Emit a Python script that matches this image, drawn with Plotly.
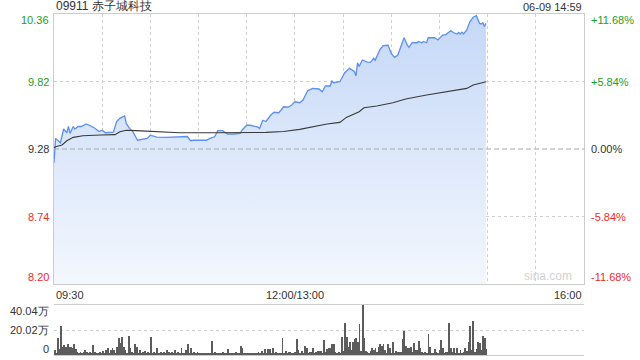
import plotly.graph_objects as go

# ---------------- data ----------------
title_text = "09911 赤子城科技"
stamp_text = "06-09 14:59"
prev_close = 9.28
price_ticks = [10.36, 9.82, 9.28, 8.74, 8.20]
pct_ticks = ["+11.68%", "+5.84%", "0.00%", "-5.84%", "-11.68%"]
vol_ticks = [40.04, 20.02, 0]
vol_tick_labels = ["40.04万", "20.02万", "0"]
x_tick_labels = ["09:30", "12:00/13:00", "16:00"]

price_times = ["09:30", "09:31", "09:34", "09:36", "09:38", "09:39", "09:40", "09:42", "09:43", "09:45",
               "09:47", "09:50", "09:52", "09:55", "09:58", "10:00", "10:02", "10:05", "10:07", "10:09",
               "10:11", "10:14", "10:15", "10:17", "10:19", "10:22", "10:25", "10:28", "10:30", "10:32",
               "10:34", "10:40", "10:45", "10:50", "10:53", "10:55", "10:57", "11:05", "11:07", "11:10",
               "11:12", "11:15", "11:18", "11:22", "11:26", "11:27", "11:30", "11:32", "11:34", "11:37",
               "11:38", "11:40", "11:42", "11:45", "11:47", "11:50", "11:53", "11:56", "11:58", "12:00",
               "13:03", "13:05", "13:08", "13:11", "13:15", "13:17", "13:19", "13:22", "13:23", "13:24",
               "13:28", "13:31", "13:34", "13:37", "13:38", "13:39", "13:40", "13:42", "13:45", "13:47",
               "13:49", "13:50", "13:51", "13:53", "13:55", "13:58", "14:00", "14:02", "14:04", "14:06",
               "14:08", "14:10", "14:11", "14:13", "14:16", "14:17", "14:19", "14:20", "14:22", "14:23",
               "14:27", "14:29", "14:32", "14:34", "14:37", "14:39", "14:41", "14:42", "14:43", "14:44",
               "14:45", "14:47", "14:49", "14:51", "14:53", "14:55", "14:56", "14:57", "14:58", "14:59"]
price_values = [9.17, 9.365, 9.33, 9.44, 9.41, 9.46, 9.405, 9.46, 9.44, 9.46,
                9.46, 9.48, 9.47, 9.45, 9.42, 9.43, 9.41, 9.415, 9.415, 9.50,
                9.525, 9.544, 9.485, 9.445, 9.42, 9.35, 9.355, 9.365, 9.39, 9.38,
                9.375, 9.373, 9.375, 9.378, 9.38, 9.346, 9.35, 9.35, 9.365, 9.378,
                9.427, 9.427, 9.40, 9.40, 9.405, 9.43, 9.47, 9.47, 9.465, 9.455,
                9.445, 9.51, 9.50, 9.552, 9.574, 9.57, 9.618, 9.615, 9.632, 9.658,
                9.65, 9.672, 9.747, 9.765, 9.76, 9.738, 9.784, 9.784, 9.826, 9.81,
                9.818, 9.89, 9.925, 9.90, 9.864, 9.97, 9.94, 9.992, 9.975, 9.973,
                10.005, 9.99, 10.02, 10.077, 10.107, 10.11, 10.045, 10.013, 10.03, 10.10,
                10.17, 10.11, 10.093, 10.13, 10.13, 10.14, 10.13, 10.14, 10.13, 10.17,
                10.17, 10.152, 10.192, 10.195, 10.226, 10.21, 10.20, 10.213, 10.20, 10.215,
                10.20, 10.232, 10.30, 10.334, 10.347, 10.285, 10.28, 10.29, 10.26, 10.285]

avg_times = ["09:30", "09:31", "09:35", "09:38", "09:42", "09:48", "09:59", "10:08", "10:11", "10:15",
             "10:21", "10:48", "11:07", "11:24", "11:42", "11:53", "12:00", "13:03", "13:20", "13:28",
             "13:32", "13:40", "13:43", "13:51", "14:01", "14:09", "14:22", "14:34", "14:47", "14:51",
             "14:59"]
avg_values = [9.29, 9.298, 9.312, 9.346, 9.373, 9.386, 9.392, 9.395, 9.418, 9.43,
              9.427, 9.41, 9.41, 9.41, 9.413, 9.42, 9.43, 9.437, 9.48, 9.493,
              9.533, 9.578, 9.61, 9.624, 9.65, 9.68, 9.712, 9.738, 9.765, 9.792,
              9.818]

# volume per trading minute (万), 09:30 .. 14:59
volume = [4, 2, 13.3, 5, 23.2, 6.7, 8, 6.7, 8.5, 6.7,
          6.7, 5.3, 8.5, 4.8, 2.7, 1.5, 2.7, 1.2, 2.1, 4,
          2.7, 1.5, 2.7, 1.2, 8, 2.1, 1.3, 1.0, 2.7, 1.5,
          3.2, 1.2, 4, 5.3, 1.5, 4, 5.3, 4, 1.5, 6.7,
          13.9, 9.3, 14.7, 6.7, 4, 1.5, 15.5, 5.3, 2.7, 1.2,
          8.5, 6.7, 1.5, 4, 1.2, 2.7, 3.2, 1.0, 2.1, 1.2,
          14.7, 1.5, 2.7, 1.2, 5.3, 1.0, 2.7, 1.2, 2.1, 1.0,
          4, 2.1, 1.2, 2.7, 1.0, 4, 1.2, 2.1, 1.0, 5.3,
          1.2, 1.5, 4, 8.5, 1.5, 5.3, 1.2, 2.7, 1.0, 2.7,
          1.0, 1.2, 1.0, 1.2, 1.0, 1.2, 1.0, 1.5, 11.2, 1.0,
          2.1, 1.0, 1.0, 1.5, 1.0, 2.1, 1.0, 1.2, 4.8, 1.0,
          1.2, 1.5, 1.0, 2.1, 1.0, 1.2, 7.2, 5.9, 1.2, 1.0,
          1.5, 1.0, 1.2, 1.0, 1.5, 1.0, 1.2, 2.7, 1.0, 3.2,
          1.5, 4.5, 1.2, 4.5, 4.8, 1.2, 5.3, 1.0, 2.1, 1.0,
          1.2, 1.5, 13.9, 1.2, 3.2, 1.5, 2.7, 2.1, 1.0, 1.2,
          2.7, 12.8, 4, 1.2, 3.2, 1.5, 7.2, 5.9, 1.5, 2.7,
          2.1, 5.9, 1.0, 2.7, 3.2, 3.2, 3.2, 1.2, 12, 2.1,
          4.8, 5.3, 5.3, 8.8, 8.8, 2.7, 1.0, 2.1, 1.2, 14.2,
          3.2, 25.4, 14.2, 6.7, 10.1, 4, 10.7, 12.8, 13.9, 10.1,
          24.6, 3.2, 40.04, 13.4, 3.2, 2.7, 1.2, 3.2, 5.9, 4,
          5.3, 2.7, 6.7, 8.5, 7.5, 8.8, 4, 1.2, 8.8, 5.3,
          1.2, 10.7, 1.5, 3.2, 2.7, 2.7, 2.7, 12.8, 19.5, 7.2,
          5.9, 5.3, 6.7, 2.1, 9.3, 4, 4, 11.2, 5.3, 2.7,
          1.3, 2.7, 1.2, 16.6, 6.7, 1.3, 1.3, 4.8, 2.1, 1.3,
          4, 12, 5.3, 1.2, 2.7, 2.1, 25.4, 5.9, 2.7, 5.9,
          1.5, 5.9, 1.2, 4, 1.3, 2.1, 5.9, 3.2, 10.7, 23.2,
          4, 27.2, 2.7, 4.8, 10.7, 9.3, 4, 15.5, 13.9, 4.8]


def tidx(t):
    """Trading-minute index: 09:30 -> 0, 12:00 / 13:00 -> 150, 16:00 -> 330."""
    h, m = map(int, t.split(":"))
    mins = h * 60 + m
    return mins - 570 if mins <= 720 else 150 + (mins - 780)


px = [tidx(t) for t in price_times]
ax_ = [tidx(t) for t in avg_times]
vx = list(range(len(volume)))
x_end = tidx("16:00")

GREEN = "#1e9e1e"
RED = "#f02b2b"
DARK = "#333333"
FONT = "Liberation Sans, Arial, sans-serif"

fig = go.Figure()

fig.add_trace(go.Scatter(
    x=px, y=price_values, mode="lines",
    line=dict(color="#5b8ff0", width=1.3),
    fill="tozeroy",
    fillgradient=dict(type="vertical", start=price_ticks[-1], stop=price_ticks[0],
                      colorscale=[[0, "#f3f7fe"], [1, "#c5d8f7"]]),
    hoverinfo="skip", xaxis="x", yaxis="y"))

fig.add_trace(go.Scatter(
    x=ax_, y=avg_values, mode="lines",
    line=dict(color="#3a3a3a", width=1.1),
    hoverinfo="skip", xaxis="x", yaxis="y"))

fig.add_trace(go.Bar(
    x=vx, y=volume, width=0.55,
    marker=dict(color="#5c5c5c", line=dict(width=0)),
    hoverinfo="skip", xaxis="x2", yaxis="y2"))

grid_x = list(range(0, x_end + 1, 30))

fig.update_layout(
    width=640, height=360,
    margin=dict(l=54, r=56, t=14, b=5),
    paper_bgcolor="white", plot_bgcolor="white",
    showlegend=False, bargap=0,
    font=dict(family=FONT, size=11, color=DARK),
    xaxis=dict(domain=[0, 1], range=[0, x_end], tickvals=grid_x, showticklabels=False,
               ticks="", showgrid=True, gridcolor="#cfcfcf", griddash="dot", gridwidth=1,
               showline=True, mirror=True, linecolor="#cccccc", linewidth=1,
               zeroline=False, anchor="y", fixedrange=True),
    yaxis=dict(domain=[71 / 341, 1], range=[price_ticks[-1], price_ticks[0]],
               tickvals=[price_ticks[1], price_ticks[3]], showticklabels=False, ticks="",
               showgrid=True, gridcolor="#cfcfcf", griddash="dot", gridwidth=1,
               showline=True, mirror=True, linecolor="#cccccc", linewidth=1,
               zeroline=False, anchor="x"),
    xaxis2=dict(domain=[0, 1], range=[-0.5, x_end], showticklabels=False, ticks="",
                showgrid=False, showline=True, mirror=True, linecolor="#cccccc", linewidth=1,
                zeroline=False, anchor="y2", matches=None),
    yaxis2=dict(domain=[0, 50 / 341], range=[0, vol_ticks[0]],
                tickvals=[vol_ticks[0], vol_ticks[1]], showticklabels=False, ticks="",
                showgrid=True, gridcolor="#cfcfcf", griddash="dot", gridwidth=1,
                showline=False, zeroline=False, anchor="x2"),
)

# previous-close reference line
fig.add_shape(type="line", xref="x", yref="y", x0=0, x1=x_end, y0=prev_close, y1=prev_close,
              line=dict(color="#a8a8a8", width=1, dash="5px,3px"))

ann = []
# title and time stamp
ann.append(dict(text=title_text, xref="paper", yref="paper", x=0, y=1, xanchor="left",
                yanchor="bottom", yshift=-1, showarrow=False,
                font=dict(size=12, color=DARK, family=FONT)))
ann.append(dict(text=stamp_text, xref="paper", yref="paper", x=1, y=1, xanchor="right",
                yanchor="bottom", yshift=-1, showarrow=False,
                font=dict(size=11, color=DARK, family=FONT)))

# price and percent labels
shifts = [-6, 0, 0, 0, 7]
for i, (p, pc) in enumerate(zip(price_ticks, pct_ticks)):
    col = GREEN if p > prev_close else (RED if p < prev_close else DARK)
    ann.append(dict(text=f"{p:.2f}", xref="paper", yref="y", x=0, y=p, xanchor="right",
                    yanchor="middle", xshift=-3, yshift=shifts[i], showarrow=False,
                    font=dict(size=11, color=col, family=FONT)))
    ann.append(dict(text=pc, xref="paper", yref="y", x=1, y=p, xanchor="left",
                    yanchor="middle", xshift=5, yshift=shifts[i], showarrow=False,
                    font=dict(size=11, color=col, family=FONT)))

# time axis labels
for t, xa in zip(x_tick_labels, ["left", "center", "right"]):
    xv = tidx(t.split("/")[-1]) if "/" in t else tidx(t)
    ann.append(dict(text=t, xref="x", yref="paper", x=xv, y=71 / 341, xanchor=xa,
                    yanchor="top", yshift=-3, showarrow=False,
                    font=dict(size=11, color=DARK, family=FONT)))

# volume labels
vshift = [-6, 0, 6]
for v, lab, s in zip(vol_ticks, vol_tick_labels, vshift):
    ann.append(dict(text=lab, xref="paper", yref="y2", x=0, y=v, xanchor="right",
                    yanchor="middle", xshift=-3, yshift=s, showarrow=False,
                    font=dict(size=11, color=DARK, family=FONT)))

# watermark
ann.append(dict(text="sina.com", xref="paper", yref="y", x=1, y=price_ticks[-1],
                xanchor="right", yanchor="bottom", xshift=-10, yshift=-1, showarrow=False,
                font=dict(size=12, color="#d2d2d2", family=FONT)))

fig.update_layout(annotations=ann)

fig.write_html("out.html")
